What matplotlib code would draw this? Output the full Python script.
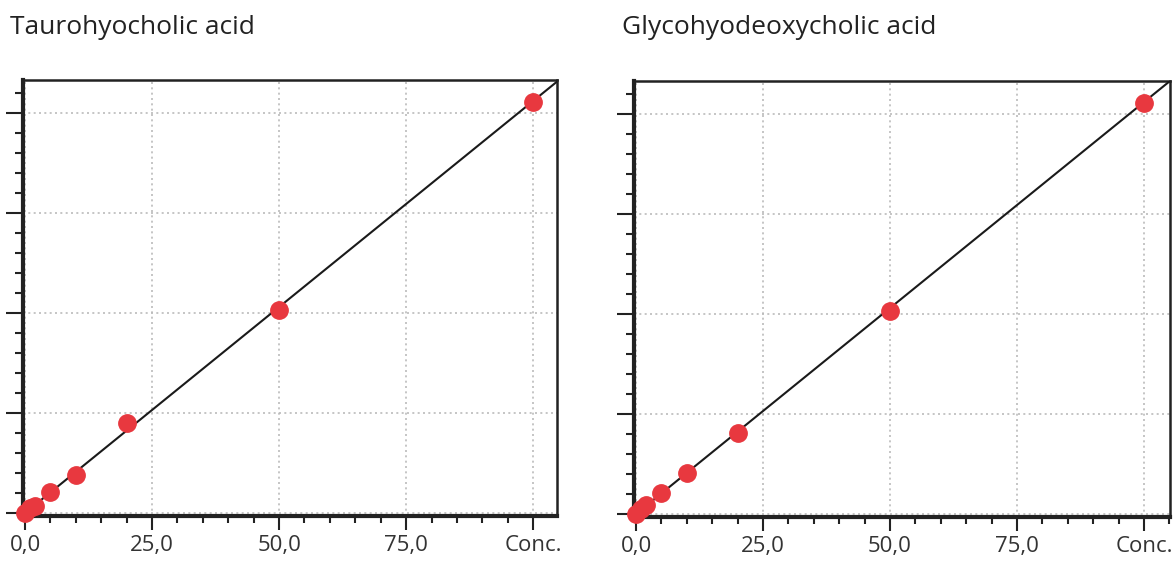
import matplotlib
matplotlib.use("Agg")
import matplotlib.pyplot as plt
from matplotlib.ticker import MultipleLocator, FixedLocator, FixedFormatter

titles = ["Taurohyocholic acid", "Glycohyodeoxycholic acid"]
conc = [0, 1, 2, 5, 10, 20, 50, 100]
resp_left = [0.0, 1.2, 1.8, 5.3, 9.5, 22.5, 50.8, 102.8]
resp_right = [0.0, 1.2, 2.3, 5.3, 10.3, 20.3, 50.8, 102.8]
fit_slope = [1.03, 1.03]
fit_icpt = [0.0, 0.0]
xtick_vals = [0, 25, 50, 75, 100]
xtick_labels = ["0,0", "25,0", "50,0", "75,0", "Conc."]

plt.rcParams['font.family'] = ['Open Sans', 'DejaVu Sans']

fig = plt.figure(figsize=(11.73, 5.62), dpi=100)
positions = [[23/1173, 1-516/562, 534/1173, 436/562],
             [634/1173, 1-517/562, 536/1173, 436/562]]
series = [resp_left, resp_right]
xmax = [104.7, 105.1]
title_x = [10/1173, 622/1173]

for i in range(2):
    ax = fig.add_axes(positions[i])
    ax.set_xlim(-0.4, xmax[i])
    ax.set_ylim(-0.75, 108.25)
    xs = [ax.get_xlim()[0], ax.get_xlim()[1]]
    ax.plot(xs, [fit_slope[i]*x + fit_icpt[i] for x in xs], color='#1a1a1a', lw=1.5, zorder=3)
    ax.plot(conc, series[i], 'o', color='#e8383f', markersize=12.5, zorder=4, clip_on=False)
    ax.xaxis.set_major_locator(FixedLocator(xtick_vals))
    ax.xaxis.set_major_formatter(FixedFormatter(xtick_labels))
    ax.xaxis.set_minor_locator(MultipleLocator(5))
    ax.yaxis.set_major_locator(MultipleLocator(25))
    ax.yaxis.set_minor_locator(MultipleLocator(5))
    ax.set_yticklabels([])
    ax.tick_params(axis='x', which='major', length=10, width=1.5, color='#222222',
                   labelsize=16, labelcolor='#333333', pad=4)
    ax.tick_params(axis='x', which='minor', length=5, width=1.5, color='#222222')
    ax.tick_params(axis='y', which='major', length=12, width=1.5, color='#222222')
    ax.tick_params(axis='y', which='minor', length=6, width=1.5, color='#222222')
    ax.grid(True, which='major', color='#bbbbbb', linestyle=(0, (1.2, 2)), lw=1.2)
    for s in ['top', 'right']:
        ax.spines[s].set_linewidth(1.8)
        ax.spines[s].set_color('#222222')
    for s in ['left', 'bottom']:
        ax.spines[s].set_linewidth(3)
        ax.spines[s].set_color('#222222')
    fig.text(title_x[i], 1-34/562, titles[i], fontsize=19, color='#222222', ha='left', va='baseline')

fig.savefig("out.png", dpi=100)
